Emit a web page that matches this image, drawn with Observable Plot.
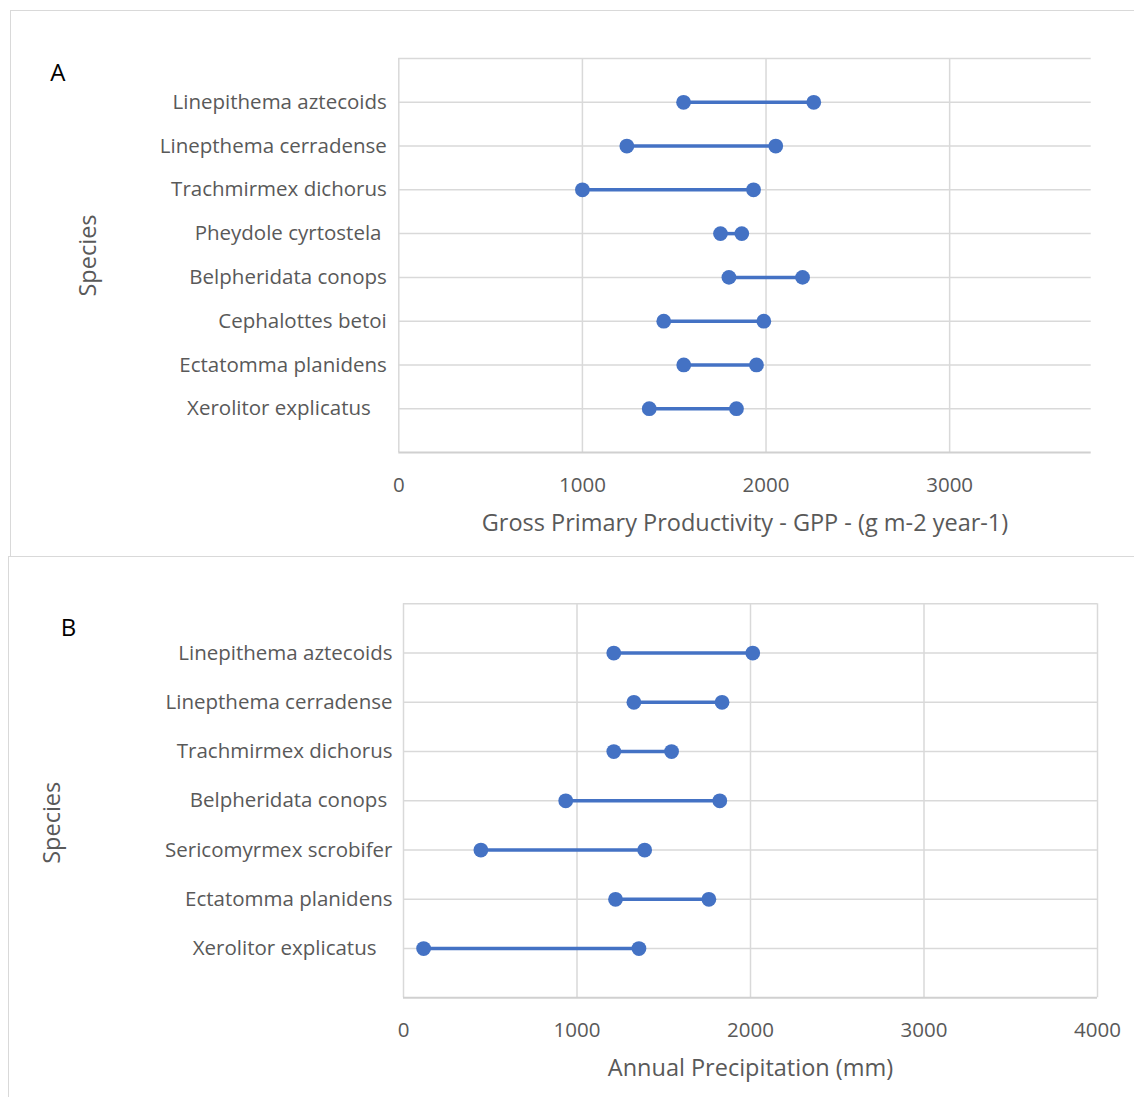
<!DOCTYPE html>
<html>
<head>
<meta charset="utf-8">
<script src="https://cdn.jsdelivr.net/npm/d3@7"></script>
<script src="https://cdn.jsdelivr.net/npm/@observablehq/plot@0.6"></script>
<style>
  html, body { margin: 0; padding: 0; background: #fff; }
  body { width: 1134px; height: 1097px; overflow: hidden; position: relative; }
  .box { position: absolute; border: 1.5px solid #d9d9d9; box-sizing: border-box; }
  .panel { position: absolute; left: 0; }
  .panel svg { overflow: visible; }
</style>
</head>
<body>
<div class="box" style="left:10px; top:10px; width:1200px; height:547px;"></div>
<div class="box" style="left:8px; top:556px; width:1200px; height:600px;"></div>
<div id="pa" class="panel" style="top:0px;"></div>
<div id="pb" class="panel" style="top:557px;"></div>
<script>
// Panel A: Gross Primary Productivity
const speciesA = ["Linepithema aztecoids", "Linepthema cerradense", "Trachmirmex dichorus", "Pheydole cyrtostela\u00a0", "Belpheridata conops", "Cephalottes betoi", "Ectatomma planidens", "Xerolitor explicatus\u00a0\u00a0\u00a0"];
const gppMin = [1551, 1242, 1000, 1752, 1798, 1443, 1552, 1364];
const gppMax = [2260, 2053, 1932, 1868, 2199, 1988, 1948, 1839];
const ticksA = [0, 1000, 2000, 3000];

// Panel B: Annual Precipitation
const speciesB = ["Linepithema aztecoids", "Linepthema cerradense", "Trachmirmex dichorus", "Belpheridata conops\u00a0", "Sericomyrmex scrobifer", "Ectatomma planidens", "Xerolitor explicatus\u00a0\u00a0\u00a0"];
const precMin = [1212, 1328, 1212, 935, 446, 1222, 116];
const precMax = [2013, 1836, 1545, 1823, 1390, 1760, 1357];
const ticksB = [0, 1000, 2000, 3000, 4000];

const blue = "#4472C4";
const grid = "#d9d9d9";

function panel(o) {
  const n = o.species.length;
  const rows = o.species.map((s, i) => ({species: s, lo: o.lo[i], hi: o.hi[i], pos: n - i}));
  return Plot.plot({
    width: 1134,
    height: o.height,
    marginLeft: o.ml, marginRight: o.mr, marginTop: o.mt, marginBottom: o.mb,
    x: {domain: [0, o.xMax], axis: null},
    y: {domain: [0, n + 1], axis: null},
    style: {fontFamily: "'Open Sans', sans-serif", color: "#595959", background: "transparent"},
    marks: [
      Plot.ruleX(o.ticks, {stroke: grid, strokeWidth: 1.5}),
      Plot.ruleY(d3.range(1, n + 2), {stroke: grid, strokeWidth: 1.5}),
      Plot.ruleY([0], {stroke: "#d0d0d0", strokeWidth: 2}),
      Plot.axisX(o.ticks, {tickSize: 0, tickPadding: 25, fontSize: 20.5, tickFormat: d => String(d), label: null}),
      Plot.axisY(d3.range(1, n + 1), {tickSize: 0, tickPadding: o.yPad, fontSize: 20.5, tickFormat: p => o.species[n - p], label: null}),
      Plot.link(rows, {x1: "lo", x2: "hi", y1: "pos", y2: "pos", stroke: blue, strokeWidth: 3.5}),
      Plot.dot(rows, {x: "lo", y: "pos", r: 7.4, fill: blue}),
      Plot.dot(rows, {x: "hi", y: "pos", r: 7.4, fill: blue}),
      Plot.text([o.xTitle], {frameAnchor: "bottom", dy: o.titleDy, fontSize: 23.5, lineAnchor: "middle", fill: "#595959"}),
      Plot.text(["Species"], {frameAnchor: "left", rotate: -90, dx: o.spDx, dy: o.spDy, fontSize: 23.5, textAnchor: "middle", lineAnchor: "middle", fill: "#595959"}),
      Plot.text([o.letter], {frameAnchor: "top-left", dx: o.lDx, dy: o.lDy, fontSize: 24, textAnchor: "middle", lineAnchor: "middle", fill: "#000"})
    ]
  });
}

document.getElementById("pa").append(panel({
  species: speciesA, lo: gppMin, hi: gppMax, ticks: ticksA, xMax: 3771,
  xTitle: "Gross Primary Productivity - GPP - (g m-2 year-1)", letter: "A",
  height: 556, ml: 398.3, mr: 43.3, mt: 58, mb: 104, yPad: 12,
  titleDy: 71, spDx: -310, spDy: 0, lDx: -341, lDy: 15
}));

document.getElementById("pb").append(panel({
  species: speciesB, lo: precMin, hi: precMax, ticks: ticksB, xMax: 4000,
  xTitle: "Annual Precipitation (mm)", letter: "B",
  height: 540, ml: 403, mr: 37, mt: 46.3, mb: 99.7, yPad: 11,
  titleDy: 71, spDx: -351, spDy: 22, lDx: -335, lDy: 25
}));
</script>
</body>
</html>
